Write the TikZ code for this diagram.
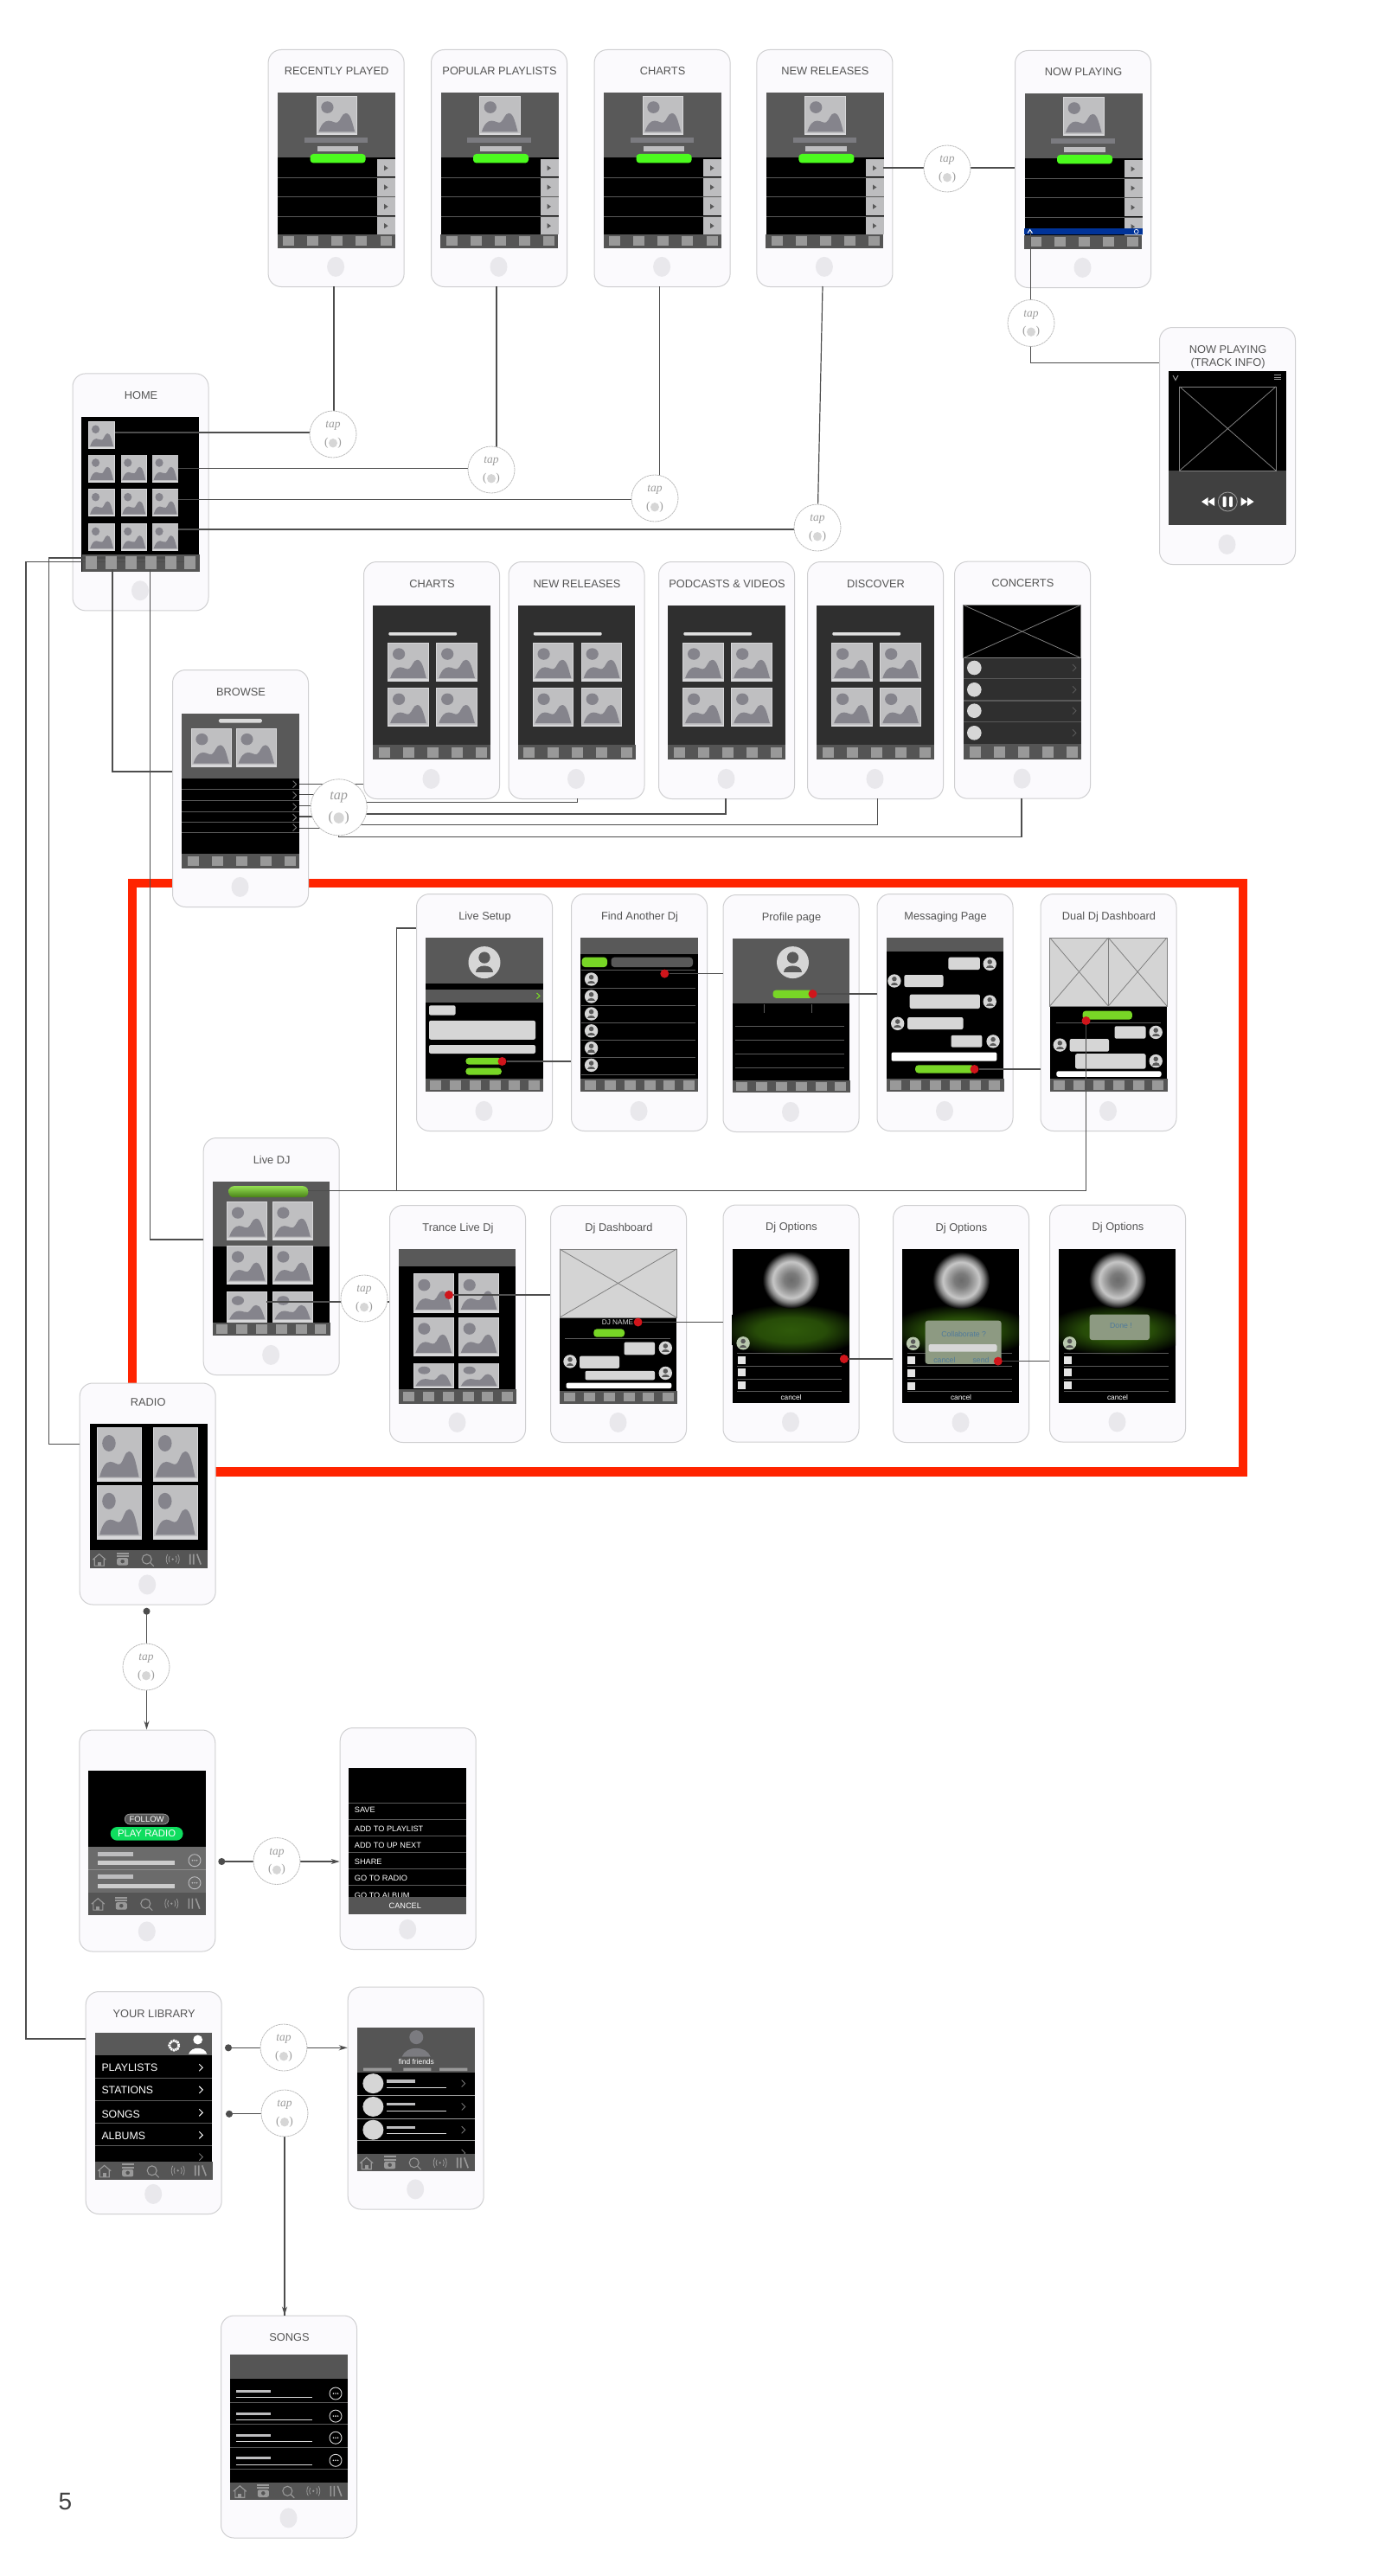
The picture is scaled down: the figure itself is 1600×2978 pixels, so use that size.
\documentclass[tikz,border=0pt]{standalone}
\usepackage{fontspec}
\setmainfont{Liberation Sans}
\newfontfamily\tapfont{Liberation Serif}
\usetikzlibrary{arrows.meta}

\definecolor{phoneedge}{HTML}{CFCFD1}
\definecolor{phonefill}{HTML}{FBFAFD}
\definecolor{homebtn}{HTML}{E9E8EC}
\definecolor{titlegrey}{HTML}{555555}
\definecolor{headgrey}{HTML}{595959}
\definecolor{tabgrey}{HTML}{555555}
\definecolor{tabsq}{HTML}{999999}
\definecolor{wiregrey}{HTML}{4D4D4D}
\definecolor{tapedge}{HTML}{BDBDBD}
\definecolor{tapword}{HTML}{9C9C9C}
\definecolor{thumbfill}{HTML}{BFBFC1}
\definecolor{thumbedge}{HTML}{D8D8DA}
\definecolor{peakgrey}{HTML}{85848C}
\definecolor{barmid}{HTML}{7B7B80}
\definecolor{barlight}{HTML}{BDBDBF}
\definecolor{chevgrey}{HTML}{777777}
\definecolor{brightgreen}{HTML}{4CFB1E}
\definecolor{softgreen}{HTML}{78D626}
\definecolor{radiogreen}{HTML}{0FDD5F}
\definecolor{nowblue}{HTML}{003399}
\definecolor{griddark}{HTML}{2F2F2F}
\definecolor{avatarfill}{HTML}{D6D6D6}
\definecolor{tintfill}{HTML}{B9C8AE}
\definecolor{dialogfill}{HTML}{8D9A82}
\definecolor{dialogblue}{HTML}{4F7A9B}
\definecolor{frameorange}{HTML}{FF2400}
\definecolor{dotred}{HTML}{D0151B}
\definecolor{glowinner}{HTML}{2F5A0A}
\definecolor{glowmid}{HTML}{274C08}
\definecolor{glowouter}{HTML}{122404}

\pgfdeclareradialshading{blurhead}{\pgfpoint{0bp}{0bp}}{color(0bp)=(black!58);color(6bp)=(black!52);color(12bp)=(black!35);color(16bp)=(black!22);color(20bp)=(black!50);color(25bp)=(black);color(50bp)=(black)}
\pgfdeclareradialshading{greenglow}{\pgfpoint{0bp}{0bp}}{color(0bp)=(glowinner);color(12bp)=(glowmid);color(19bp)=(glowouter);color(25bp)=(black);color(50bp)=(black)}

\pgfdeclarelayer{wires}
\pgfdeclarelayer{top}
\pgfsetlayers{main,wires,top}

\tikzset{
  phonebody/.style={draw=phoneedge,fill=phonefill,line width=1pt,rounded corners=15pt,
    minimum width=157pt,anchor=north west,inner sep=0pt},
  phonetitle/.style={font=\fontsize{12.8}{14.8}\selectfont,text=titlegrey,anchor=base,inner sep=0pt},
  wire/.style={draw=wiregrey,line width=1.2pt},
  tapring/.style={circle,draw=tapedge,fill=white,line width=.8pt,dash pattern=on 2.5pt off .6pt,inner sep=0pt},
  tapmarktext/.style={text=tapword,inner sep=0pt},
  reddot/.style={circle,fill=dotred,inner sep=0pt,minimum width=10pt,minimum height=10pt},
  rowline/.style={draw=headgrey,line width=1pt},
  menutext/.style={text=white,font=\fontsize{9.2}{11}\selectfont,anchor=west,inner sep=0pt},
  smallwhite/.style={text=white,font=\fontsize{8.3}{10}\selectfont,inner sep=0pt},
  dialogtext/.style={text=dialogblue,font=\fontsize{8.7}{10}\selectfont,inner sep=0pt},
  librarytext/.style={text=white,font=\fontsize{12.3}{14}\selectfont,anchor=west,inner sep=0pt},
  dottip/.style={{Circle[length=8pt]}-{Stealth[length=10pt,width=6pt]}},
  dotstart/.style={{Circle[length=8pt]}-}
}

% body of one phone, inside a shifted scope
\newcommand{\phone}[4][30]{
  \node[phonebody,minimum height=#3pt] (#2) at (0,0) {};
  \node[phonetitle] (#2title) at (79.5,#1) {#4};
  \fill[homebtn] (78.5,{#3-22.6}) ellipse (10 and 11.5);
}
\newcommand{\thumb}[4]{
  \begin{scope}[shift={(#1,#2)},xscale=#3/100,yscale=#4/100]
    \fill[thumbedge] (0,0) rectangle (100,100);
    \fill[thumbfill] (2,2) rectangle (98,94);
    \fill[peakgrey] (6,91) .. controls (12,72) and (20,63) .. (30,63) .. controls (40,63) and (45,70) .. (52,67)
      .. controls (60,62) and (62,44) .. (72,44) .. controls (84,44) and (88,70) .. (94,91) -- cycle;
    \fill[peakgrey] (27,29) ellipse (15 and 15);
  \end{scope}
}
\newcommand{\pill}[5]{\fill[#1,rounded corners=3.6pt] (#2,#3) rectangle (#4,#5);}
\newcommand{\bubble}[5]{\fill[#1,rounded corners=2pt] (#2,#3) rectangle (#4,#5);}
\newcommand{\barfill}[2]{\fill[tabgrey] (11,#1) rectangle (147,#2);}
\newcommand{\fivesq}[2]{\foreach \sx in {24,52,80,108,136.5} {\fill[tabsq] ({\sx-6.5},{#1+2.5}) rectangle ({\sx+6.5},{#2-2.5});}}
\newcommand{\sixsq}[2]{\foreach \sx in {22,45,68,91,113.5,136} {\fill[tabsq] ({\sx-6.5},{#1+2.5}) rectangle ({\sx+6.5},{#2-2.5});}}
\newcommand{\avatar}[4][avatarfill]{
  \begin{scope}[shift={(#2,#3)},scale=#4/10]
    \fill[#1] (0,0) circle (10);
    \fill[headgrey] (0,-3) circle (3.6);
    \fill[headgrey] (-5.6,6.4) .. controls (-5.6,1) and (5.6,1) .. (5.6,6.4) -- cycle;
  \end{scope}
}
\newcommand{\chev}[3][chevgrey]{\draw[#1,line width=.9pt] ({#2-2},{#3-4}) -- ({#2+2},#3) -- ({#2-2},{#3+4});}
\newcommand{\moredots}[3][barlight]{
  \draw[#1,line width=.9pt] (#2,#3) circle (7);
  \foreach \dx in {-2.6,0,2.6} {\fill[#1] ({#2+\dx},#3) circle (.9);}
}
\newcommand{\crossbox}[5]{
  \filldraw[fill=#5,draw=gray,line width=.8pt] (#1,#2) rectangle (#3,#4);
  \draw[gray,line width=.8pt] (#1,#2) -- (#3,#4) (#1,#4) -- (#3,#2);
}
\newcommand{\icontabs}[2]{
  \barfill{#1}{#2}
  \begin{scope}[shift={(22,{(#1+#2)/2+1})},draw=tabsq,fill=tabsq,line width=1.1pt]
    \draw (-7.5,-.5) -- (0,-7) -- (7.5,-.5) (-5.5,-1.5) -- (-5.5,6.5) -- (5.5,6.5) -- (5.5,-1.5);
    \fill (-2,2) rectangle (2,6.5);
  \end{scope}
  \begin{scope}[shift={(49,{(#1+#2)/2})},fill=tabsq]
    \fill (-7,-8) rectangle (7,-6);
    \fill (-7,-4.5) rectangle (7,-2.5);
    \fill[rounded corners=2pt,even odd rule] (-6.5,-1.5) rectangle (6.5,7) (0,2.5) circle (2.4);
  \end{scope}
  \begin{scope}[shift={(78,{(#1+#2)/2+1})},draw=tabsq,line width=1.1pt]
    \draw (-1,-1) circle (5.5);
    \draw (3,3) -- (7,7);
  \end{scope}
  \begin{scope}[shift={(107,{(#1+#2)/2})},draw=tabsq,fill=tabsq,line width=.8pt]
    \fill (0,0) circle (1.3);
    \draw (-3.6,-3.6) .. controls (-5,-1.5) and (-5,1.5) .. (-3.6,3.6) (3.6,-3.6) .. controls (5,-1.5) and (5,1.5) .. (3.6,3.6);
    \draw (-6,-5.5) .. controls (-8,-2) and (-8,2) .. (-6,5.5) (6,-5.5) .. controls (8,-2) and (8,2) .. (6,5.5);
  \end{scope}
  \begin{scope}[shift={(133,{(#1+#2)/2})},draw=tabsq,line width=1.6pt]
    \draw (-6,-6) -- (-6,6) (-2,-6) -- (-2,6) (2,-6) -- (6.5,6);
  \end{scope}
}
\newcommand{\playlistscreen}{
  \fill[headgrey] (11.5,50.5) rectangle (147.5,124.8);
  \fill[black] (11.5,124.8) rectangle (147.5,214);
  \thumb{56}{53.8}{47.5}{45.7}
  \fill[barmid] (42.4,102.4) rectangle (115.8,108);
  \fill[barlight] (57,112.5) rectangle (104.5,118);
  \foreach \ly in {148.5,170.5,193.4} {\draw[rowline] (11.5,\ly) -- (147.5,\ly);}
  \foreach \by in {126.8,149,171.3,193.6} {
    \fill[barlight] (126.6,\by) rectangle (147.6,{\by+20.6});
    \fill[headgrey] (134.6,{\by+7.5}) -- (139,{\by+10.5}) -- (134.6,{\by+13.5}) -- cycle;
  }
  \pill{brightgreen}{49}{121}{113}{131.4}
  \barfill{214}{229.5}
}
\newcommand{\gridscreen}{
  \fill[griddark] (11,50.6) rectangle (146.6,212);
  \fill[white!88!black,rounded corners=1pt] (29.3,82) rectangle (108,85.5);
  \thumb{28.3}{94}{47.4}{45}
  \thumb{84.4}{94}{47.4}{45}
  \thumb{28.3}{146.2}{47.4}{45}
  \thumb{84.4}{146.2}{47.4}{45}
  \barfill{212}{229}
  \fivesq{212}{229}
}
\newcommand{\optionscreen}[1]{
  \fill[black] (11,51) rectangle (146,229.4);
  \begin{scope}
    \clip (11,51) rectangle (146,229.4);
    \shade[shading=greenglow] (79,145) ellipse (84 and 30);
  \end{scope}
  \shade[shading=blurhead] (79,87) circle (33);
  \avatar[tintfill]{23.6}{160.3}{7.7}
  \foreach \ly in {171.7,186.9,201.6,215.9} {\draw[rowline] (16.6,\ly) -- (137.8,\ly);}
  \foreach \by in {175.1,189.8,204.6} {\fill[white!90!black] (17.3,\by) rectangle (26.3,{\by+8.9});}
  \node[smallwhite] (#1cancel) at (79,223) {cancel};
}
\newcommand{\tapmark}[4]{
  \begin{pgfonlayer}{top}
    \node[tapring,minimum size=#4*2pt] (#1) at (#2,#3) {};
    \node[tapmarktext,font=\tapfont\itshape\fontsize{13.5}{15}\selectfont,scale=#4/27] (#1word) at (#2,{#3-9.4*#4/27}) {tap};
    \fill[avatarfill] (#2,{#3+10.2*#4/27}) ellipse ({5*#4/27} and {5.2*#4/27});
    \node[tapmarktext,font=\tapfont\fontsize{13.5}{15}\selectfont,scale=#4/27] (#1sign) at (#2,{#3+9.8*#4/27}) {(\hspace{11pt})};
  \end{pgfonlayer}
}
\newcommand{\redmark}[3]{
  \begin{pgfonlayer}{top}
    \node[reddot] (#1) at (#2,#3) {};
  \end{pgfonlayer}
}

\begin{document}
\begin{tikzpicture}[x=1pt,y=-1pt]
  \path[use as bounding box,fill=white] (0,0) rectangle (1600,2978);
  \draw[frameorange,line width=10.5pt,line join=miter] (153,1021) rectangle (1437,1701.5);

  % top row
  \begin{scope}[shift={(309.6,57)}]
    \phone{recentphone}{274}{RECENTLY PLAYED}
    \playlistscreen
    \fivesq{214}{229.5}
  \end{scope}
  \begin{scope}[shift={(498,57)}]
    \phone{popularphone}{274}{POPULAR PLAYLISTS}
    \playlistscreen
    \fivesq{214}{229.5}
  \end{scope}
  \begin{scope}[shift={(686.6,57)}]
    \phone{chartphone}{274}{CHARTS}
    \playlistscreen
    \fivesq{214}{229.5}
  \end{scope}
  \begin{scope}[shift={(874.4,57)}]
    \phone{newphone}{274}{NEW RELEASES}
    \playlistscreen
    \fivesq{214}{229.5}
  \end{scope}
  \begin{scope}[shift={(1173,58)}]
    \phone{nowphone}{274}{NOW PLAYING}
    \playlistscreen
    \fill[nowblue] (11,206) rectangle (147.5,213.5);
    \draw[white,line width=1pt] (15,211.5) -- (17.7,207.5) -- (20.4,211.5);
    \draw[white,line width=.7pt] (140.7,209.7) circle (2.4);
    \fivesq{214}{229.5}
  \end{scope}
  \begin{scope}[shift={(1340,378)}]
    \phone[30.5]{trackphone}{274}{NOW PLAYING}
    \node[phonetitle] (trackphonesecond) at (79.5,45.4) {(TRACK INFO)};
    \fill[black] (11,51) rectangle (146.7,166);
    \fill[black!75] (11,166) rectangle (146.7,229.3);
    \crossbox{23.7}{69}{135}{166}{black}
    \draw[tabsq,line width=1pt] (16,56) -- (19,61.5) -- (22,56);
    \foreach \ly in {55.7,58.3,60.9} {\draw[tabsq,line width=1pt] (133,\ly) -- (141,\ly);}
    \draw[tabsq,line width=.9pt] (79.3,202) circle (11);
    \fill[white,rounded corners=1pt] (73.7,196) rectangle (77.5,208);
    \fill[white,rounded corners=1pt] (81,196) rectangle (84.8,208);
    \fill[white] (49,202) -- (56.5,197) -- (56.5,207) -- cycle;
    \fill[white] (56.5,202) -- (64,197) -- (64,207) -- cycle;
    \fill[white] (109.5,202) -- (102,197) -- (102,207) -- cycle;
    \fill[white] (102,202) -- (94.5,197) -- (94.5,207) -- cycle;
  \end{scope}

  % home and browse
  \begin{scope}[shift={(83.5,431.4)}]
    \phone{homephone}{274}{HOME}
    \fill[black] (10.7,51) rectangle (146,229.4);
    \thumb{18.8}{55.6}{30.6}{32}
    \foreach \ty in {94.3,134,173.7} {
      \foreach \tx in {18.8,56,92.3} {\thumb{\tx}{\ty}{30.6}{32}}
    }
    \barfill{209.4}{229.4}
    \begin{pgfonlayer}{top}
      \sixsq{209.4}{229.4}
    \end{pgfonlayer}
  \end{scope}
  \begin{scope}[shift={(199,774)}]
    \phone{browsephone}{274}{BROWSE}
    \fill[headgrey] (11,50.9) rectangle (146.7,125.6);
    \fill[black] (11,125.6) rectangle (146.7,213.4);
    \fill[white!85!black,rounded corners=1.5pt] (53.9,57) rectangle (103.9,61.5);
    \thumb{21.7}{67.6}{47}{45}
    \thumb{73.8}{67.6}{47}{45}
    \foreach \ly in {138.6,151.3,164,176.2,188.8} {\draw[rowline] (11,\ly) -- (146.7,\ly);}
    \foreach \cy in {132.7,145.3,158.7,171,182.7} {\chev{141.6}{\cy}}
    \barfill{213.4}{229.7}
    \fivesq{213.4}{229.7}
  \end{scope}
  \begin{scope}[shift={(420,649)}]
    \phone{chartsecond}{274}{CHARTS}
    \gridscreen
  \end{scope}
  \begin{scope}[shift={(587.5,649)}]
    \phone{newsecond}{274}{NEW RELEASES}
    \gridscreen
  \end{scope}
  \begin{scope}[shift={(761,649)}]
    \phone{podcastphone}{274}{PODCASTS \& VIDEOS}
    \gridscreen
  \end{scope}
  \begin{scope}[shift={(933,649)}]
    \phone{discoverphone}{274}{DISCOVER}
    \gridscreen
  \end{scope}
  \begin{scope}[shift={(1103,648.7)}]
    \phone{concertphone}{274}{CONCERTS}
    \crossbox{10.6}{50.6}{146.6}{112}{black}
    \fill[griddark] (10.6,112) rectangle (146.6,211.3);
    \foreach \ly in {136,161.3,186} {\draw[rowline,line width=1.4pt] (10.6,\ly) -- (146.6,\ly);}
    \foreach \cy in {123.3,148.6,173,198.6} {
      \fill[avatarfill] (23.3,\cy) circle (8.3);
      \chev[headgrey]{139}{\cy}
    }
    \barfill{211.3}{229.3}
    \fivesq{211.3}{229.3}
  \end{scope}

  % live dj, upper row
  \begin{scope}[shift={(481,1033)}]
    \phone{setupphone}{274}{Live Setup}
    \fill[black] (11,51) rectangle (146.6,214);
    \fill[headgrey] (11,51) rectangle (146.6,104);
    \avatar{79}{79.6}{18.5}
    \fill[headgrey] (11,110.7) rectangle (146.6,125.8);
    \draw[softgreen,line width=1.1pt] (139.5,115) -- (143,118.3) -- (139.5,121.6);
    \bubble{avatarfill}{15}{129.3}{45.6}{140.6}
    \bubble{avatarfill}{15}{146.9}{138}{168.8}
    \bubble{avatarfill}{15}{175}{138}{185}
    \pill{softgreen}{57.4}{189.9}{98.8}{197.6}
    \pill{softgreen}{57.4}{201.6}{98.8}{209.6}
    \barfill{213.8}{229}
    \sixsq{213.8}{229}
    \redmark{setupdot}{99.5}{194}
  \end{scope}
  \begin{scope}[shift={(660,1033)}]
    \phone{findphone}{274}{Find Another Dj}
    \fill[black] (11,51) rectangle (146.6,214);
    \fill[headgrey] (11,51) rectangle (146.6,70.3);
    \pill{softgreen}{12.7}{73.7}{42}{85}
    \pill{headgrey}{46.5}{73.7}{141}{85}
    \foreach \ly in {88,109.6,129.8,149.6,169.4,189.2,209} {\draw[rowline] (11.5,\ly) -- (144,\ly);}
    \foreach \ay in {99,119,139,158.8,178.6,198.4} {\avatar{23.6}{\ay}{7.7}}
    \barfill{213.8}{229}
    \sixsq{213.8}{229}
    \redmark{finddot}{108.3}{92.6}
  \end{scope}
  \begin{scope}[shift={(835.5,1034)}]
    \phone{profilephone}{274}{Profile page}
    \fill[black] (11,51) rectangle (146,214.5);
    \fill[headgrey] (11,51) rectangle (146,125.7);
    \avatar{81}{78.6}{18.5}
    \pill{softgreen}{58}{110.6}{104}{119.8}
    \draw[rowline] (48,127) -- (48,137) (103.4,127) -- (103.4,137);
    \foreach \ly in {152.7,168.2,184.7,200.7} {\draw[rowline] (14,\ly) -- (140,\ly);}
    \barfill{214.5}{229}
    \sixsq{214.5}{229}
    \redmark{profiledot}{104}{115}
  \end{scope}
  \begin{scope}[shift={(1013.5,1033)}]
    \phone{messagephone}{274}{Messaging Page}
    \fill[black] (11,51) rectangle (146.7,214);
    \fill[headgrey] (11,51) rectangle (146.7,67);
    \bubble{avatarfill}{82.9}{73.7}{119.3}{88}
    \avatar{130.7}{81.3}{7.7}
    \avatar{20.4}{101}{7.7}
    \bubble{avatarfill}{31.9}{94}{77}{108}
    \bubble{avatarfill}{38.2}{116.6}{119.3}{133}
    \avatar{130.7}{125}{7.7}
    \avatar{24.2}{150.3}{7.7}
    \bubble{avatarfill}{35.7}{143}{100}{157}
    \bubble{avatarfill}{86}{163.8}{121.8}{177.7}
    \avatar{134.6}{170.9}{7.7}
    \bubble{white}{17}{183.5}{138.9}{193.7}
    \pill{softgreen}{44.6}{198.3}{113}{207.5}
    \barfill{213.8}{229}
    \sixsq{213.8}{229}
    \redmark{messagedot}{113}{203}
  \end{scope}
  \begin{scope}[shift={(1202.5,1033)}]
    \phone{dualphone}{274}{Dual Dj Dashboard}
    \fill[black] (11,130) rectangle (146.5,214);
    \crossbox{11.2}{51}{78.8}{130}{black!17}
    \crossbox{78.8}{51}{146.5}{130}{black!17}
    \pill{softgreen}{49}{135.6}{106.4}{145.7}
    \draw[rowline] (18,149.5) -- (139,149.5);
    \bubble{avatarfill}{86}{153.3}{122}{167.6}
    \avatar{133.7}{160.4}{7.7}
    \avatar{22.8}{175.1}{7.7}
    \bubble{avatarfill}{34.2}{168}{79.5}{182.7}
    \bubble{avatarfill}{40.6}{185.2}{122}{202.5}
    \avatar{133.7}{193.6}{7.7}
    \bubble{white}{18.9}{205.4}{140}{211.8}
    \barfill{213.8}{229}
    \sixsq{213.8}{229}
    \redmark{dualdot}{53}{147}
  \end{scope}

  % live dj, lower row
  \begin{scope}[shift={(234.7,1315)}]
    \phone{livephone}{274}{Live DJ}
    \fill[black] (11,125.5) rectangle (146.3,214);
    \fill[headgrey] (11,51) rectangle (146.3,125.5);
    \shade[top color=softgreen!80!white,bottom color=softgreen!60!black,rounded corners=6pt] (29.6,56.2) rectangle (121.6,69.2);
    \foreach \tx in {27.6,80} {
      \thumb{\tx}{74.2}{47}{44.4}
      \thumb{\tx}{125.1}{47}{44.4}
      \thumb{\tx}{178.3}{47}{35.2}
    }
    \barfill{213.8}{229}
    \sixsq{213.8}{229}
  \end{scope}
  \begin{scope}[shift={(450,1393)}]
    \phone{trancephone}{274}{Trance Live Dj}
    \fill[black] (11,51) rectangle (146.3,214);
    \fill[headgrey] (11,51) rectangle (146.3,70.8);
    \foreach \tx in {27.6,80} {
      \thumb{\tx}{79.4}{47.2}{45.5}
      \thumb{\tx}{130}{47.2}{45}
      \thumb{\tx}{182.6}{47.2}{29.4}
    }
    \barfill{213}{229.7}
    \sixsq{213}{229.7}
    \redmark{trancedot}{69}{104}
  \end{scope}
  \begin{scope}[shift={(636,1393)}]
    \phone{dashphone}{274}{Dj Dashboard}
    \fill[black] (11,130) rectangle (146,214.7);
    \crossbox{11}{51}{146}{130}{black!17}
    \node[smallwhite,text=avatarfill] (dashname) at (78,135.5) {DJ NAME};
    \pill{softgreen}{50.3}{143.4}{86}{152.7}
    \draw[rowline] (17.4,154.8) -- (138.6,154.8);
    \bubble{avatarfill}{85.5}{158.6}{121}{173.3}
    \avatar{133.3}{165.3}{7.7}
    \avatar{23}{180.9}{7.7}
    \bubble{avatarfill}{34}{174.6}{80}{188.9}
    \bubble{avatarfill}{40.5}{191.8}{121}{202.3}
    \avatar{133.3}{194.4}{7.7}
    \bubble{white}{18.5}{205.7}{140.3}{212}
    \barfill{214.7}{229.7}
    \sixsq{214.7}{229.7}
    \redmark{dashdot}{101.6}{135.5}
  \end{scope}
  \begin{scope}[shift={(835.5,1392.5)}]
    \phone{optionone}{274}{Dj Options}
    \optionscreen{optionone}
    \redmark{optiononedot}{140.3}{178.5}
  \end{scope}
  \begin{scope}[shift={(1032,1393)}]
    \phone{optiontwo}{274}{Dj Options}
    \optionscreen{optiontwo}
    \fill[dialogfill,rounded corners=3pt] (37.6,133.7) rectangle (125.6,183.8);
    \node[dialogtext] (collaboratetext) at (82.2,149.3) {Collaborate ?};
    \bubble{avatarfill}{41.5}{161.1}{120.5}{169.6}
    \node[dialogtext] (dialogcancel) at (59.9,178.9) {cancel};
    \node[dialogtext] (dialogsend) at (102,178.9) {send};
    \redmark{optiontwodot}{121.8}{180.6}
  \end{scope}
  \begin{scope}[shift={(1213,1392.5)}]
    \phone{optionthree}{274}{Dj Options}
    \optionscreen{optionthree}
    \fill[dialogfill,rounded corners=3pt] (46.6,127) rectangle (116,156.6);
    \node[dialogtext] (donetext) at (83,140.5) {Done !};
  \end{scope}

  % radio
  \begin{scope}[shift={(91.7,1598.5)}]
    \phone[27]{radiophone}{256}{RADIO}
    \begin{scope}[shift={(1,0)}]
      \fill[black] (11,47) rectangle (147,194);
      \icontabs{193.6}{214.5}
    \end{scope}
    \thumb{20.3}{51.7}{51.7}{63}
    \thumb{85}{51.7}{52}{63}
    \thumb{20.3}{118.5}{51.7}{63}
    \thumb{85}{118.5}{52}{63}
  \end{scope}
  \begin{scope}[shift={(91.3,1999.5)}]
    \phone{followphone}{256}{}
    \fill[black] (11,47) rectangle (147,135.5);
    \fill[black!58] (11,135.5) rectangle (147,188.3);
    \draw[rowline,draw=black!45] (11,162.3) -- (147,162.3);
    \fill[barlight] (21.4,141.2) rectangle (63,146.2);
    \fill[white!80!black] (21.4,151.9) rectangle (110.4,156.9);
    \fill[barlight] (21.4,167.6) rectangle (63,172.6);
    \fill[white!80!black] (21.4,178.4) rectangle (110.4,183);
    \moredots{133.7}{151.2}
    \moredots{133.7}{177.2}
    \icontabs{188.3}{214}
    \filldraw[fill=tabgrey,draw=tabsq,line width=.8pt,rounded corners=5.9pt] (53,97.6) rectangle (103.7,109.5);
    \node[text=white,font=\fontsize{9.5}{11}\selectfont,inner sep=0pt] (followtext) at (78.3,103.6) {FOLLOW};
    \fill[radiogreen,rounded corners=7.8pt] (36.4,112.5) rectangle (120.3,128.2);
    \node[text=white,font=\fontsize{11.3}{13}\selectfont,inner sep=0pt] (playtext) at (78.3,120.3) {PLAY RADIO};
  \end{scope}
  \begin{scope}[shift={(392.7,1997)}]
    \phone{menuphone}{256}{}
    \fill[black] (10.6,47.3) rectangle (146.6,196);
    \foreach \ly in {87.9,106.6,125.7,144.9,163.6,182.4} {\draw[rowline] (10.6,\ly) -- (146.6,\ly);}
    \node[menutext] (savetext) at (17,95.1) {SAVE};
    \node[menutext] (playlisttext) at (17,117.3) {ADD TO PLAYLIST};
    \node[menutext] (uptext) at (17,136) {ADD TO UP NEXT};
    \node[menutext] (sharetext) at (17,155.6) {SHARE};
    \node[menutext] (gotext) at (17,174.4) {GO TO RADIO};
    \node[menutext] (albumtext) at (17,194.3) {GO TO ALBUM};
    \fill[tabgrey] (10.6,195.6) rectangle (146.6,215.7);
    \node[menutext,anchor=center] (canceltext) at (75.6,206) {CANCEL};
  \end{scope}

  % library
  \begin{scope}[shift={(98.7,2302)}]
    \phone{libraryphone}{257}{YOUR LIBRARY}
    \fill[black] (11,74) rectangle (146.6,198);
    \fill[headgrey] (11,47.7) rectangle (146.6,74);
    \draw[white,line width=2.8pt,dash pattern=on 2pt off .7pt] (102.6,62.6) circle (5.6);
    \fill[white] (130,56) circle (5.4);
    \fill[white] (119.5,72.5) .. controls (122,63.5) and (138,63.5) .. (140.5,72.5) -- cycle;
    \node[librarytext] (playliststext) at (18.6,88.6) {PLAYLISTS};
    \node[librarytext] (stationstext) at (18.6,113.9) {STATIONS};
    \node[librarytext] (songstext) at (18.6,142.2) {SONGS};
    \node[librarytext] (albumstext) at (18.6,167) {ALBUMS};
    \foreach \ly in {100,126,152.4,178} {\draw[rowline] (11,\ly) -- (146.6,\ly);}
    \foreach \cy in {88.2,113.9,140.3,166.3} {\chev[white]{133.6}{\cy}}
    \chev{133.6}{191.6}
    \icontabs{197}{217.6}
  \end{scope}
  \begin{scope}[shift={(401.7,2296.5)}]
    \phone{friendsphone}{257}{}
    \fill[black] (11,99.5) rectangle (147,194);
    \fill[tabgrey] (11,47.5) rectangle (147,99.5);
    \fill[barmid] (79.6,58.6) circle (8);
    \fill[barmid] (63,81) .. controls (68,68) and (91,68) .. (96,81) -- cycle;
    \node[smallwhite,font=\fontsize{8.4}{10}\selectfont] (friendstext) at (79.6,86.5) {find friends};
    \fill[tabsq] (18.3,94) rectangle (51,97.7) (64.6,94) rectangle (96.6,97.7) (106.3,94) rectangle (138.6,97.7);
    \foreach \ly in {125.9,152.7,178.4} {\draw[rowline,draw=tabsq] (11,\ly) -- (147,\ly);}
    \foreach \ry in {112.1,138.9,165.7} {
      \fill[avatarfill] (29.7,\ry) ellipse (12 and 11.5);
      \fill[barlight] (45.6,{\ry-4.6}) rectangle (78.3,{\ry-1.1});
      \draw[white!85!black,line width=1pt] (45.6,{\ry+4.6}) -- (114.3,{\ry+4.6});
      \chev{134}{\ry}
    }
    \chev{134}{192.5}
    \icontabs{193.6}{213.9}
  \end{scope}
  \begin{scope}[shift={(255,2676.5)}]
    \phone{songsphone}{257}{SONGS}
    \fill[black] (11.3,73.5) rectangle (147.3,193);
    \fill[tabgrey] (11.3,45.7) rectangle (147.3,73.5);
    \foreach \ly in {100.5,125.8,152.7,178.4} {\draw[rowline] (11.3,\ly) -- (147.3,\ly);}
    \foreach \ry in {90.5,116.6,141.7,167.8} {
      \fill[barlight] (17.7,{\ry-4.5}) rectangle (58.3,{\ry-1});
      \draw[white!85!black,line width=1pt] (17.7,{\ry+4.7}) -- (105.7,{\ry+4.7});
      \moredots[white!85!black]{133}{\ry}
    }
    \begin{scope}[shift={(.3,0)}]
      \icontabs{193}{213.5}
    \end{scope}
  \end{scope}
  \node[text=black!75,font=\fontsize{28}{30}\selectfont,inner sep=0pt] (pagenumber) at (75.5,2892) {5};

  % tap marks
  \tapmark{tapa}{385}{502}{27}
  \tapmark{tapb}{568}{543}{27}
  \tapmark{tapc}{757}{576}{27}
  \tapmark{tapd}{945}{610}{27}
  \tapmark{tapnew}{1095}{195}{27}
  \tapmark{tapnow}{1192}{373.5}{27}
  \tapmark{tapbrowse}{391.7}{933.3}{32.5}
  \tapmark{taplive}{421}{1501}{27}
  \tapmark{tapradio}{169}{1927}{27}
  \tapmark{tapfollow}{320}{2151.5}{27}
  \tapmark{tapfriends}{328}{2367}{27}
  \tapmark{tapsongs}{329}{2443}{27}

  % free ends of the wires
  \coordinate (recentout) at (386,331);
  \coordinate (popularout) at (574,331);
  \coordinate (chartout) at (762.7,331);
  \coordinate (newout) at (951,331);
  \coordinate (homerowa) at (133,500);
  \coordinate (homerowb) at (206,541.6);
  \coordinate (homerowc) at (206,577.5);
  \coordinate (homerowd) at (206,612);
  \coordinate (newrow) at (1021,194);
  \coordinate (nowup) at (1191.5,268);
  \coordinate (trackin) at (1340,419.6);
  \coordinate (browserowa) at (346,906.7);
  \coordinate (browserowb) at (346,918.3);
  \coordinate (browserowc) at (346,931.7);
  \coordinate (browserowd) at (346,944);
  \coordinate (browserowe) at (346,957.3);
  \coordinate (tapoutb) at (391.7,927.7);
  \coordinate (tapoutc) at (391.7,941);
  \coordinate (tapoutd) at (391.7,953.7);
  \coordinate (newsecondin) at (667.3,923);
  \coordinate (podcastin) at (839,923);
  \coordinate (discoverin) at (1014.6,923);
  \coordinate (concertturn) at (1181,967.3);
  \coordinate (concertin) at (1181,923);
  \coordinate (hometabb) at (130,648);
  \coordinate (browsein) at (199,892);
  \coordinate (hometabd) at (173.5,648);
  \coordinate (livein) at (234.7,1433);
  \coordinate (hometabe) at (196,645);
  \coordinate (radioturn) at (56.7,645);
  \coordinate (radioin) at (91.7,1669.7);
  \coordinate (hometabf) at (218,649.7);
  \coordinate (libraryturn) at (30,649.7);
  \coordinate (libraryin) at (98.7,2357);
  \coordinate (livebutton) at (356.3,1376.5);
  \coordinate (setupbranch) at (458.5,1376.5);
  \coordinate (setupin) at (481,1073);
  \coordinate (livethumb) at (308,1505);
  \coordinate (radioout) at (169.5,1858.7);
  \coordinate (followin) at (169.5,1999.5);
  \coordinate (followout) at (252.3,2152);
  \coordinate (libraryout) at (260,2367.3);
  \coordinate (librarysongs) at (261,2443.8);
  \coordinate (songsin) at (329,2676.5);

  \begin{pgfonlayer}{wires}
    \begin{scope}[wire]
      \draw (recentout) to (recentout |- tapa);
      \draw (popularout) to (popularout |- tapb);
      \draw (chartout) to (chartout |- tapc);
      \draw (newout) to (tapd);
      \draw (homerowa) to (homerowa -| tapa);
      \draw (homerowb) to (homerowb -| tapb);
      \draw (homerowc) to (homerowc -| tapc);
      \draw (homerowd) to (homerowd -| tapd);
      \draw (newrow) to (newrow -| nowphone.west);
      \draw (nowup) |- (trackin);
      \draw (browserowa) to (browserowa -| chartsecond.west);
      \draw (browserowb) to (browserowb -| tapbrowse);
      \draw (browserowc) to (browserowc -| tapbrowse);
      \draw (browserowd) to (browserowd -| tapbrowse);
      \draw (browserowe) to (browserowe -| tapbrowse);
      \draw (tapoutb) -| (newsecondin);
      \draw (tapoutc) -| (podcastin);
      \draw (tapoutd) -| (discoverin);
      \draw (tapbrowse) |- (concertturn) -- (concertin);
      \draw (hometabb) |- (browsein);
      \draw (hometabd) |- (livein);
      \draw (hometabe) -- (radioturn) |- (radioin);
      \draw (hometabf) -- (libraryturn) |- (libraryin);
      \draw (livebutton) -| (dualdot);
      \draw (setupbranch) |- (setupin);
      \draw (livethumb) to (livethumb -| trancephone.west);
      \draw (setupdot) to (setupdot -| findphone.west);
      \draw (finddot) to (finddot -| profilephone.west);
      \draw (profiledot) to (profiledot -| messagephone.west);
      \draw (messagedot) to (messagedot -| dualphone.west);
      \draw (trancedot) to (trancedot -| dashphone.west);
      \draw (dashdot) to (dashdot -| optionone.west);
      \draw (optiononedot) to (optiononedot -| optiontwo.west);
      \draw (optiontwodot) to (optiontwodot -| optionthree.west);
      \draw[dottip] (radioout) to (followin);
      \draw[dottip] (followout) to (followout -| menuphone.west);
      \draw[dottip] (libraryout) to (libraryout -| friendsphone.west);
      \draw[dotstart] (librarysongs) -| (songsin);
      \draw[-{Stealth[length=10pt,width=6pt]}] (tapsongs) to (songsin);
    \end{scope}
  \end{pgfonlayer}
\end{tikzpicture}
\end{document}
